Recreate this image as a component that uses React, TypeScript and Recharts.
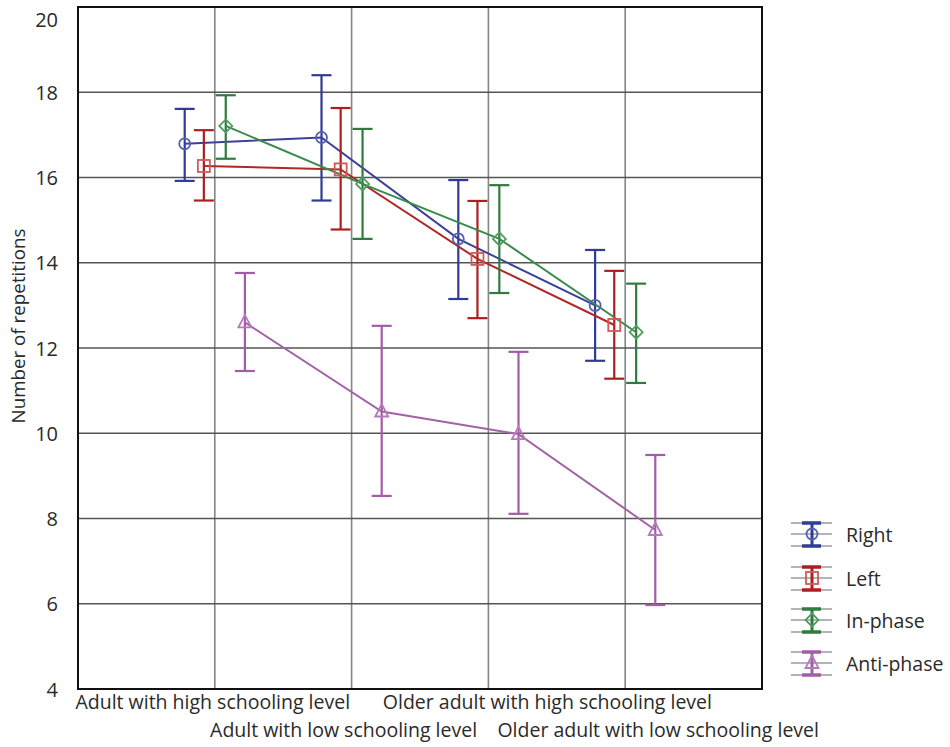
import React from 'react';
import { LineChart, Line, XAxis, YAxis, CartesianGrid, ErrorBar, ReferenceArea } from 'recharts';

const categories = [
  'Adult with high schooling level',
  'Adult with low schooling level',
  'Older adult with high schooling level',
  'Older adult with low schooling level',
];
const categoryPositions = [1, 2, 3, 4];
const labelShift = [-2, -8, 59, 33];

const seriesNames = ['Right', 'Left', 'In-phase', 'Anti-phase'];

const rightMean = [16.79, 16.94, 14.56, 13.0];
const rightLow = [15.92, 15.46, 13.15, 11.7];
const rightHigh = [17.61, 18.4, 15.94, 14.3];

const leftMean = [16.27, 16.19, 14.09, 12.54];
const leftLow = [15.46, 14.78, 12.7, 11.28];
const leftHigh = [17.11, 17.63, 15.45, 13.81];

const inPhaseMean = [17.21, 15.85, 14.56, 12.37];
const inPhaseLow = [16.44, 14.56, 13.29, 11.18];
const inPhaseHigh = [17.93, 17.14, 15.82, 13.51];

const antiPhaseMean = [12.6, 10.51, 9.98, 7.73];
const antiPhaseLow = [11.46, 8.53, 8.11, 5.97];
const antiPhaseHigh = [13.76, 12.52, 11.91, 9.49];

const yTicks = [4, 6, 8, 10, 12, 14, 16, 18, 20];
const dodge = [-0.22, -0.08, 0.08, 0.22];

const lineColors = ['#3b4199', '#b02828', '#3a8a4c', '#a262a8'];
const barColors = ['#2f3b96', '#ad1f1f', '#2e7b3e', '#a35ca6'];
const markerColors = ['#5560b0', '#d05a5a', '#4f9d5f', '#b57abb'];
const shapes = ['circle', 'square', 'diamond', 'triangle'];

const FONT = '"Open Sans", Lato, sans-serif';

function build(mean: number[], low: number[], high: number[], s: number) {
  return mean.map((m, i) => ({
    x: categoryPositions[i] + dodge[s],
    y: m,
    err: [m - low[i], high[i] - m],
  }));
}

const seriesData = [
  build(rightMean, rightLow, rightHigh, 0),
  build(leftMean, leftLow, leftHigh, 1),
  build(inPhaseMean, inPhaseLow, inPhaseHigh, 2),
  build(antiPhaseMean, antiPhaseLow, antiPhaseHigh, 3),
];

function MarkerShape({ shape, cx, cy, color }: { shape: string; cx: number; cy: number; color: string }) {
  const common = { fill: 'none', stroke: color, strokeWidth: 1.8 };
  if (shape === 'circle') return <circle cx={cx} cy={cy} r={5.5} {...common} />;
  if (shape === 'square') return <rect x={cx - 6} y={cy - 6} width={12} height={12} {...common} />;
  if (shape === 'diamond')
    return <polygon points={`${cx},${cy - 6.5} ${cx + 6.5},${cy} ${cx},${cy + 6.5} ${cx - 6.5},${cy}`} {...common} />;
  return <polygon points={`${cx},${cy - 7.5} ${cx + 6.5},${cy + 5} ${cx - 6.5},${cy + 5}`} {...common} />;
}

const makeDot = (s: number) => (props: any) => {
  const { cx, cy, index } = props;
  if (cx == null || cy == null) return <g key={index} />;
  return (
    <g key={`d-${s}-${index}`}>
      <MarkerShape shape={shapes[s]} cx={cx} cy={cy} color={markerColors[s]} />
    </g>
  );
};

const XTick = (props: any) => {
  const { x, y, payload } = props;
  const i = categoryPositions.indexOf(payload.value);
  if (i < 0) return <g />;
  const row = i % 2;
  return (
    <text
      x={x + labelShift[i]}
      y={y + 12 + row * 28}
      textAnchor="middle"
      fontSize={19.5}
      fill="#2a2a2a"
      fontFamily={FONT}
    >
      {categories[i]}
    </text>
  );
};

const YTick = (props: any) => {
  const { x, y, payload } = props;
  const dy = payload.value === 20 ? 12 : 0;
  return (
    <text
      x={x - 12}
      y={y + dy}
      textAnchor="end"
      dominantBaseline="central"
      fontSize={20}
      fill="#2a2a2a"
      fontFamily={FONT}
    >
      {payload.value}
    </text>
  );
};

function LegendBox() {
  const rows = [534, 578, 620, 663];
  return (
    <svg width={950} height={747} style={{ position: 'absolute', left: 0, top: 0, pointerEvents: 'none' }}>
      {seriesNames.map((name, s) => {
        const cy = rows[s];
        return (
          <g key={name}>
            <line x1={791} x2={832} y1={cy - 11} y2={cy - 11} stroke="#9a9a9a" strokeWidth={1.5} />
            <line x1={791} x2={832} y1={cy} y2={cy} stroke="#9a9a9a" strokeWidth={1.5} />
            <line x1={791} x2={832} y1={cy + 12} y2={cy + 12} stroke="#9a9a9a" strokeWidth={1.5} />
            <line x1={812} x2={812} y1={cy - 11} y2={cy + 12} stroke={barColors[s]} strokeWidth={3} />
            <line x1={802} x2={821} y1={cy - 11} y2={cy - 11} stroke={barColors[s]} strokeWidth={3.5} />
            <line x1={802} x2={821} y1={cy + 12} y2={cy + 12} stroke={barColors[s]} strokeWidth={3.5} />
            <MarkerShape shape={shapes[s]} cx={812} cy={cy} color={markerColors[s]} />
            <text x={846} y={cy} dominantBaseline="central" fontSize={19.5} fill="#2a2a2a" fontFamily={FONT}>
              {name}
            </text>
          </g>
        );
      })}
    </svg>
  );
}

export default function App() {
  return (
    <div style={{ position: 'absolute', left: 0, top: 0, width: 950, height: 747, background: '#fff' }}>
      <LineChart
        width={950}
        height={747}
        margin={{ top: 7, right: 188, bottom: 0, left: 0 }}
      >
        <CartesianGrid horizontal={false} vertical={true} stroke="#858585" strokeWidth={1.6} />
        <CartesianGrid horizontal={true} vertical={false} stroke="#555" strokeWidth={1.6} />
        <XAxis
          type="number"
          dataKey="x"
          domain={[0, 5]}
          ticks={categoryPositions}
          tick={<XTick />}
          tickLine={false}
          axisLine={false}
          height={58}
          interval={0}
          allowDataOverflow
        />
        <YAxis
          type="number"
          domain={[4, 20]}
          ticks={yTicks}
          tick={<YTick />}
          tickLine={false}
          axisLine={false}
          width={78}
          interval={0}
          allowDataOverflow
          label={{
            content: () => (
              <text
                x={18}
                y={326}
                transform="rotate(-90 18 326)"
                textAnchor="middle"
                dominantBaseline="central"
                fontSize={18.8}
                fill="#2a2a2a"
                fontFamily={FONT}
              >
                Number of repetitions
              </text>
            ),
          }}
        />
        <ReferenceArea x1={0} x2={5} y1={4} y2={20} fill="none" stroke="#111" strokeWidth={2} ifOverflow="visible" />
        {seriesData.map((d, s) => (
          <Line
            key={seriesNames[s]}
            name={seriesNames[s]}
            data={d}
            dataKey="y"
            type="linear"
            stroke={lineColors[s]}
            strokeWidth={2}
            dot={makeDot(s)}
            activeDot={false}
            isAnimationActive={false}
          >
            <ErrorBar dataKey="err" direction="y" width={10} stroke={barColors[s]} strokeWidth={2.2} />
          </Line>
        ))}
      </LineChart>
      <LegendBox />
    </div>
  );
}
